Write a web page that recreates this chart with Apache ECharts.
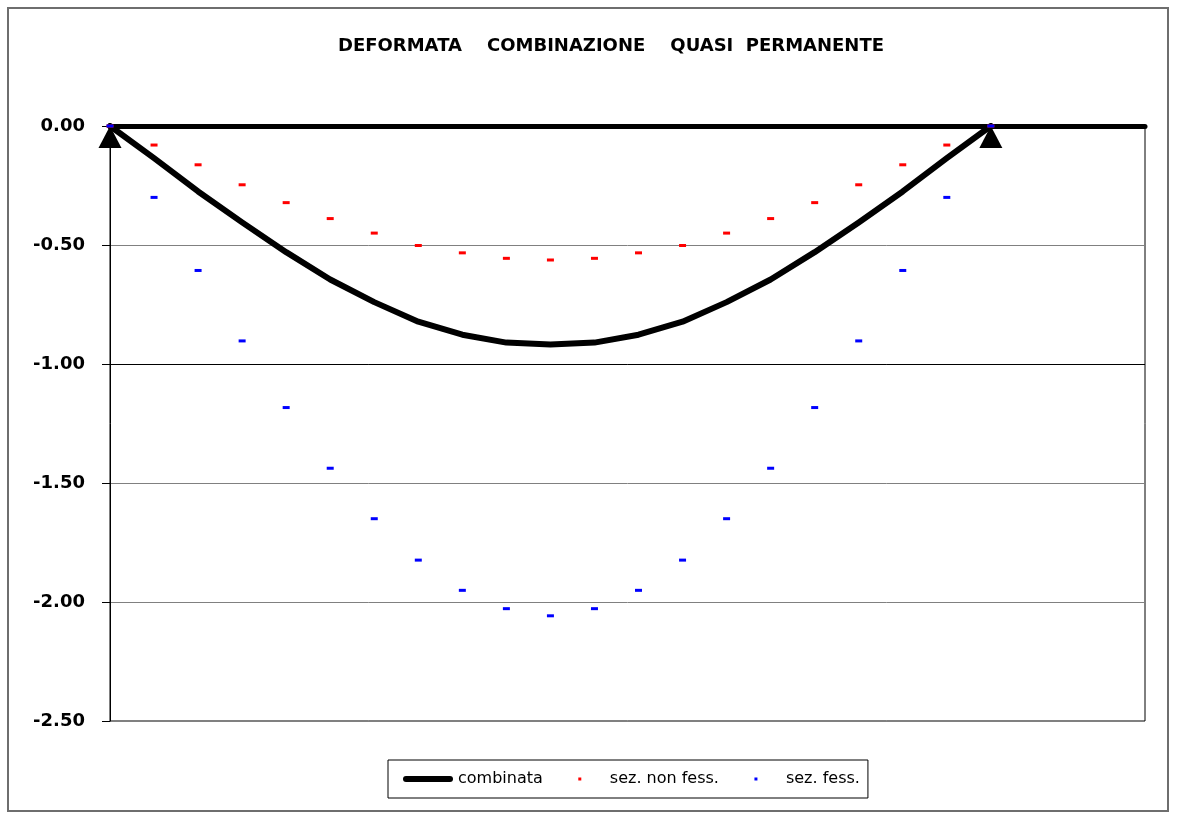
<!DOCTYPE html>
<html>
<head>
<meta charset="utf-8">
<title>Deformata combinazione quasi permanente</title>
<script src="https://cdn.jsdelivr.net/npm/echarts@6/dist/echarts.min.js"></script>
<style>
  html, body { margin: 0; padding: 0; background: #ffffff; }
  #chart { width: 1177px; height: 818px; }
</style>
</head>
<body>
<div id="chart"></div>
<script>
// Sections along the beam (index of the station)
const stations = [0, 1, 2, 3, 4, 5, 6, 7, 8, 9, 10, 11, 12, 13, 14, 15, 16, 17, 18, 19, 20];

// Deflections [cm]
const combinata = [0, -0.135, -0.275, -0.405, -0.53, -0.645, -0.74, -0.822, -0.877, -0.91, -0.918,
                   -0.91, -0.877, -0.822, -0.74, -0.645, -0.53, -0.405, -0.275, -0.135, 0];
const sezNonFess = [0, -0.080, -0.163, -0.247, -0.322, -0.389, -0.450, -0.502, -0.533, -0.556, -0.563,
                    -0.556, -0.533, -0.502, -0.450, -0.389, -0.322, -0.247, -0.163, -0.080, 0];
const sezFess = [0, -0.300, -0.607, -0.903, -1.183, -1.438, -1.650, -1.824, -1.951, -2.028, -2.058,
                 -2.028, -1.951, -1.824, -1.650, -1.438, -1.183, -0.903, -0.607, -0.300, 0];

// Supports at the beam ends
const appoggi = [0, 20];

// Vertical axis
const yMin = -2.5, yMax = 0, yStep = 0.5;

const pairs = (vals) => stations.map((s, i) => [s, vals[i]]);

const chart = echarts.init(document.getElementById('chart'), null, { renderer: 'canvas' });

const FONT = 'DejaVu Sans';

chart.setOption({
  backgroundColor: '#ffffff',
  animation: false,
  title: {
    text: 'DEFORMATA    COMBINAZIONE    QUASI  PERMANENTE',
    left: 338,
    top: 37,
    padding: 0,
    textStyle: { fontFamily: FONT, fontWeight: 'bold', fontSize: 18, color: '#000000' }
  },
  graphic: [{
    type: 'rect',
    shape: { x: 8, y: 8, width: 1160, height: 803 },
    style: { fill: 'none', stroke: '#6e6e6e', lineWidth: 2 },
    silent: true,
    z: -1
  }],
  legend: {
    left: 388,
    top: 760,
    orient: 'horizontal',
    padding: [11, 8, 11, 15],
    itemGap: 12,
    itemWidth: 50,
    itemHeight: 6,
    borderColor: '#000000',
    borderWidth: 1,
    backgroundColor: '#ffffff',
    selectedMode: false,
    textStyle: { fontFamily: FONT, fontSize: 16, color: '#000000' },
    data: [
      { name: 'combinata', icon: 'path://M3,0H47A3,3 0 0 1 47,6H3A3,3 0 0 1 3,0Z' },
      { name: 'sez. non fess.', icon: 'path://M0,0h0.01v0.01h-0.01z M23.5,1.5h3v3h-3z M49.99,5.99h0.01v0.01h-0.01z' },
      { name: 'sez. fess.', icon: 'path://M0,0h0.01v0.01h-0.01z M23.5,1.5h3v3h-3z M49.99,5.99h0.01v0.01h-0.01z' }
    ]
  },
  grid: {
    left: 110,
    right: 32,
    top: 126,
    bottom: 97,
    show: true,
    borderColor: '#000000',
    borderWidth: 1,
    backgroundColor: '#ffffff'
  },
  xAxis: {
    type: 'value',
    min: 0,
    max: 23.5,
    position: 'top',
    axisLine: { show: true, onZero: false, lineStyle: { color: '#000000', width: 5 } },
    axisTick: { show: false },
    axisLabel: { show: false },
    splitLine: { show: false }
  },
  yAxis: {
    type: 'value',
    min: yMin,
    max: yMax,
    interval: yStep,
    axisLine: { show: true, lineStyle: { color: '#000000', width: 1 } },
    axisTick: { show: true, inside: false, length: 8, lineStyle: { color: '#000000', width: 1 } },
    axisLabel: {
      margin: 25,
      fontFamily: FONT,
      fontWeight: 'bold',
      fontSize: 18,
      color: '#000000',
      formatter: (v) => (Math.abs(v) < 1e-9 ? 0 : v).toFixed(2)
    },
    splitLine: { show: true, lineStyle: { color: '#808080', width: 1 } }
  },
  series: [
    {
      name: 'combinata',
      type: 'line',
      data: pairs(combinata),
      symbol: 'none',
      lineStyle: { color: '#000000', width: 6, cap: 'round', join: 'round' },
      itemStyle: { color: '#000000' },
      z: 3,
      markLine: {
        silent: true,
        symbol: 'none',
        label: { show: false },
        lineStyle: { color: '#000000', width: 1, type: 'solid' },
        data: [{ yAxis: -1 }],
        z: 1
      }
    },
    {
      name: 'appoggi',
      type: 'scatter',
      data: appoggi.map((s) => [s, 0]),
      symbol: 'triangle',
      symbolSize: [23, 22],
      symbolOffset: [0, 11],
      itemStyle: { color: '#000000', opacity: 1 },
      z: 4
    },
    {
      name: 'sez. non fess.',
      type: 'scatter',
      data: pairs(sezNonFess),
      symbol: 'rect',
      symbolSize: [7, 3],
      itemStyle: { color: '#ff0000', opacity: 1 },
      z: 5
    },
    {
      name: 'sez. fess.',
      type: 'scatter',
      data: pairs(sezFess),
      symbol: 'rect',
      symbolSize: [7, 3],
      itemStyle: { color: '#0000ff', opacity: 1 },
      z: 6
    }
  ]
});
</script>
</body>
</html>
